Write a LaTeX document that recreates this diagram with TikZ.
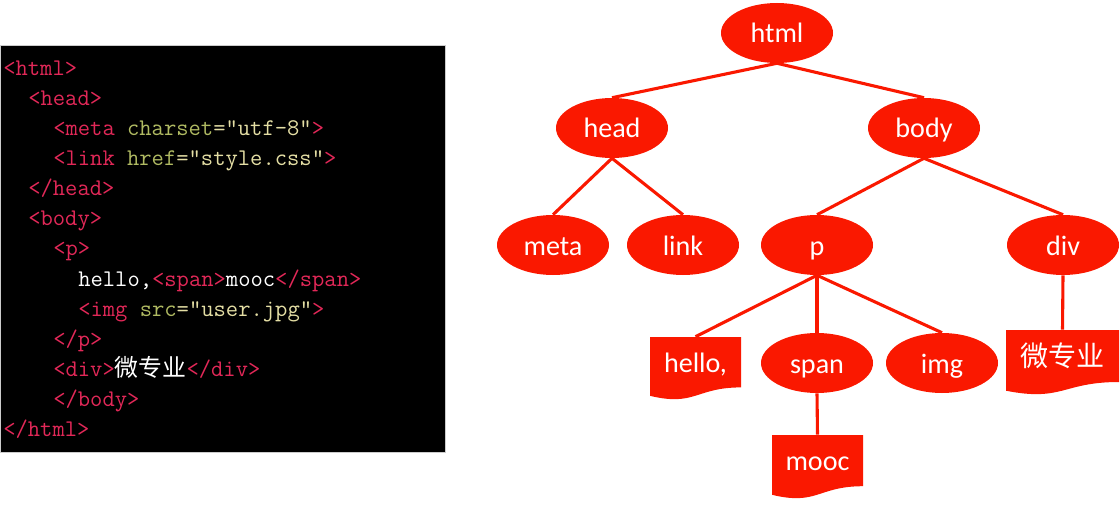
\documentclass[tikz,border=0pt]{standalone}
\usepackage{fontspec}
\newfontfamily\treefont{Carlito}
\newfontfamily\cjk{Noto Sans CJK SC}
\usetikzlibrary{shapes}
\usetikzlibrary{calc}
\definecolor{treered}{RGB}{250,24,0}
\definecolor{tagred}{RGB}{226,40,88}
\definecolor{attrgreen}{RGB}{176,186,98}
\definecolor{valyellow}{RGB}{228,222,164}
\newcommand\ctag[1]{\textcolor{tagred}{#1}}
\newcommand\cattr[1]{\textcolor{attrgreen}{#1}}
\newcommand\cval[1]{\textcolor{valyellow}{#1}}
\tikzset{
    codeline/.style = {anchor=base west, inner sep=0pt, text=white, font=\ttfamily\fontsize{17}{20}\selectfont},
    tagnode/.style = {ellipse, fill=treered, text=white, minimum width=2.8cm, minimum height=1.5cm, inner sep=0pt,
      text height=0.55cm, text depth=0.05cm, font=\treefont\fontsize{20}{24}\selectfont},
    textnode/.style = {rectangle, fill=white, text=white, inner sep=0pt,
      text height=0.45cm, text depth=0.275cm, font=\treefont\fontsize{20}{24}\selectfont,
      path picture={\fill[treered] (path picture bounding box.north west) -- (path picture bounding box.north east)
        -- ($(path picture bounding box.south east)!0.2!(path picture bounding box.north east)$)
        .. controls ($(path picture bounding box.south)!0.2!(path picture bounding box.north)$)
        and ($(path picture bounding box.south)!-0.107!(path picture bounding box.north)$)
        .. ($(path picture bounding box.south west)!0.066!(path picture bounding box.north west)$) -- cycle;}},
    branch/.style = {draw=treered, line width=2.2pt}
}

\begin{document}
\begin{tikzpicture}
  \useasboundingbox (0,0) rectangle (28,-12.85);

  % source code panel
  \fill[black, draw=gray!40, line width=0.4pt] (0,-1.125) rectangle (11.125,-11.3);
  \node[codeline] (l1)  at (0.075,-1.90) {\ctag{<html>}};
  \node[codeline] (l2)  at (0.700,-2.65) {\ctag{<head>}};
  \node[codeline] (l3)  at (1.325,-3.40) {\ctag{<meta} \cattr{charset}\cval{="utf-8"}\ctag{>}};
  \node[codeline] (l4)  at (1.325,-4.15) {\ctag{<link} \cattr{href}\cval{="style.css"}\ctag{>}};
  \node[codeline] (l5)  at (0.700,-4.90) {\ctag{</head>}};
  \node[codeline] (l6)  at (0.700,-5.65) {\ctag{<body>}};
  \node[codeline] (l7)  at (1.325,-6.40) {\ctag{<p>}};
  \node[codeline] (l8)  at (1.950,-7.15) {hello,\ctag{<span>}mooc\ctag{</span>}};
  \node[codeline] (l9)  at (1.950,-7.90) {\ctag{<img} \cattr{src}\cval{="user.jpg"}\ctag{>}};
  \node[codeline] (l10) at (1.325,-8.65) {\ctag{</p>}};
  \node[codeline] (l11) at (1.325,-9.40) {\ctag{<div>}{\cjk 微专业}\ctag{</div>}};
  \node[codeline] (l12) at (1.325,-10.15) {\ctag{</body>}};
  \node[codeline] (l13) at (0.075,-10.90) {\ctag{</html>}};

  % dom tree
  \node[tagnode] (html) at (19.425,-0.825) {html};
  \node[tagnode] (head) at (15.300,-3.200) {head};
  \node[tagnode] (body) at (23.100,-3.200) {body};
  \node[tagnode] (meta) at (13.825,-6.125) {meta};
  \node[tagnode] (link) at (17.075,-6.125) {link};
  \node[tagnode] (p)    at (20.425,-6.125) {p};
  \node[tagnode] (div)  at (26.575,-6.125) {div};
  \node[tagnode] (span) at (20.425,-9.075) {span};
  \node[tagnode] (img)  at (23.550,-9.075) {img};
  \node[textnode, minimum width=2.275cm, minimum height=1.575cm] (hello) at (17.3875,-9.2125) {hello,};
  \node[textnode, minimum width=2.825cm, minimum height=1.625cm] (wzy)   at (26.5625,-9.0625) {\cjk 微专业};
  \node[textnode, minimum width=2.275cm, minimum height=1.600cm] (mooc)  at (20.4375,-11.675) {mooc};

  \draw[branch] (html.south) -- (head.north);
  \draw[branch] (html.south) -- (body.north);
  \draw[branch] (head.south) -- (meta.north);
  \draw[branch] (head.south) -- (link.north);
  \draw[branch] (body.south) -- (p.north);
  \draw[branch] (body.south) -- (div.north);
  \draw[branch] (p.south) -- (hello.north);
  \draw[branch] (p.south) -- (span.north);
  \draw[branch] (p.south) -- (img.north);
  \draw[branch] (div.south) -- (wzy.north);
  \draw[branch] (span.south) -- (mooc.north);
\end{tikzpicture}
\end{document}
